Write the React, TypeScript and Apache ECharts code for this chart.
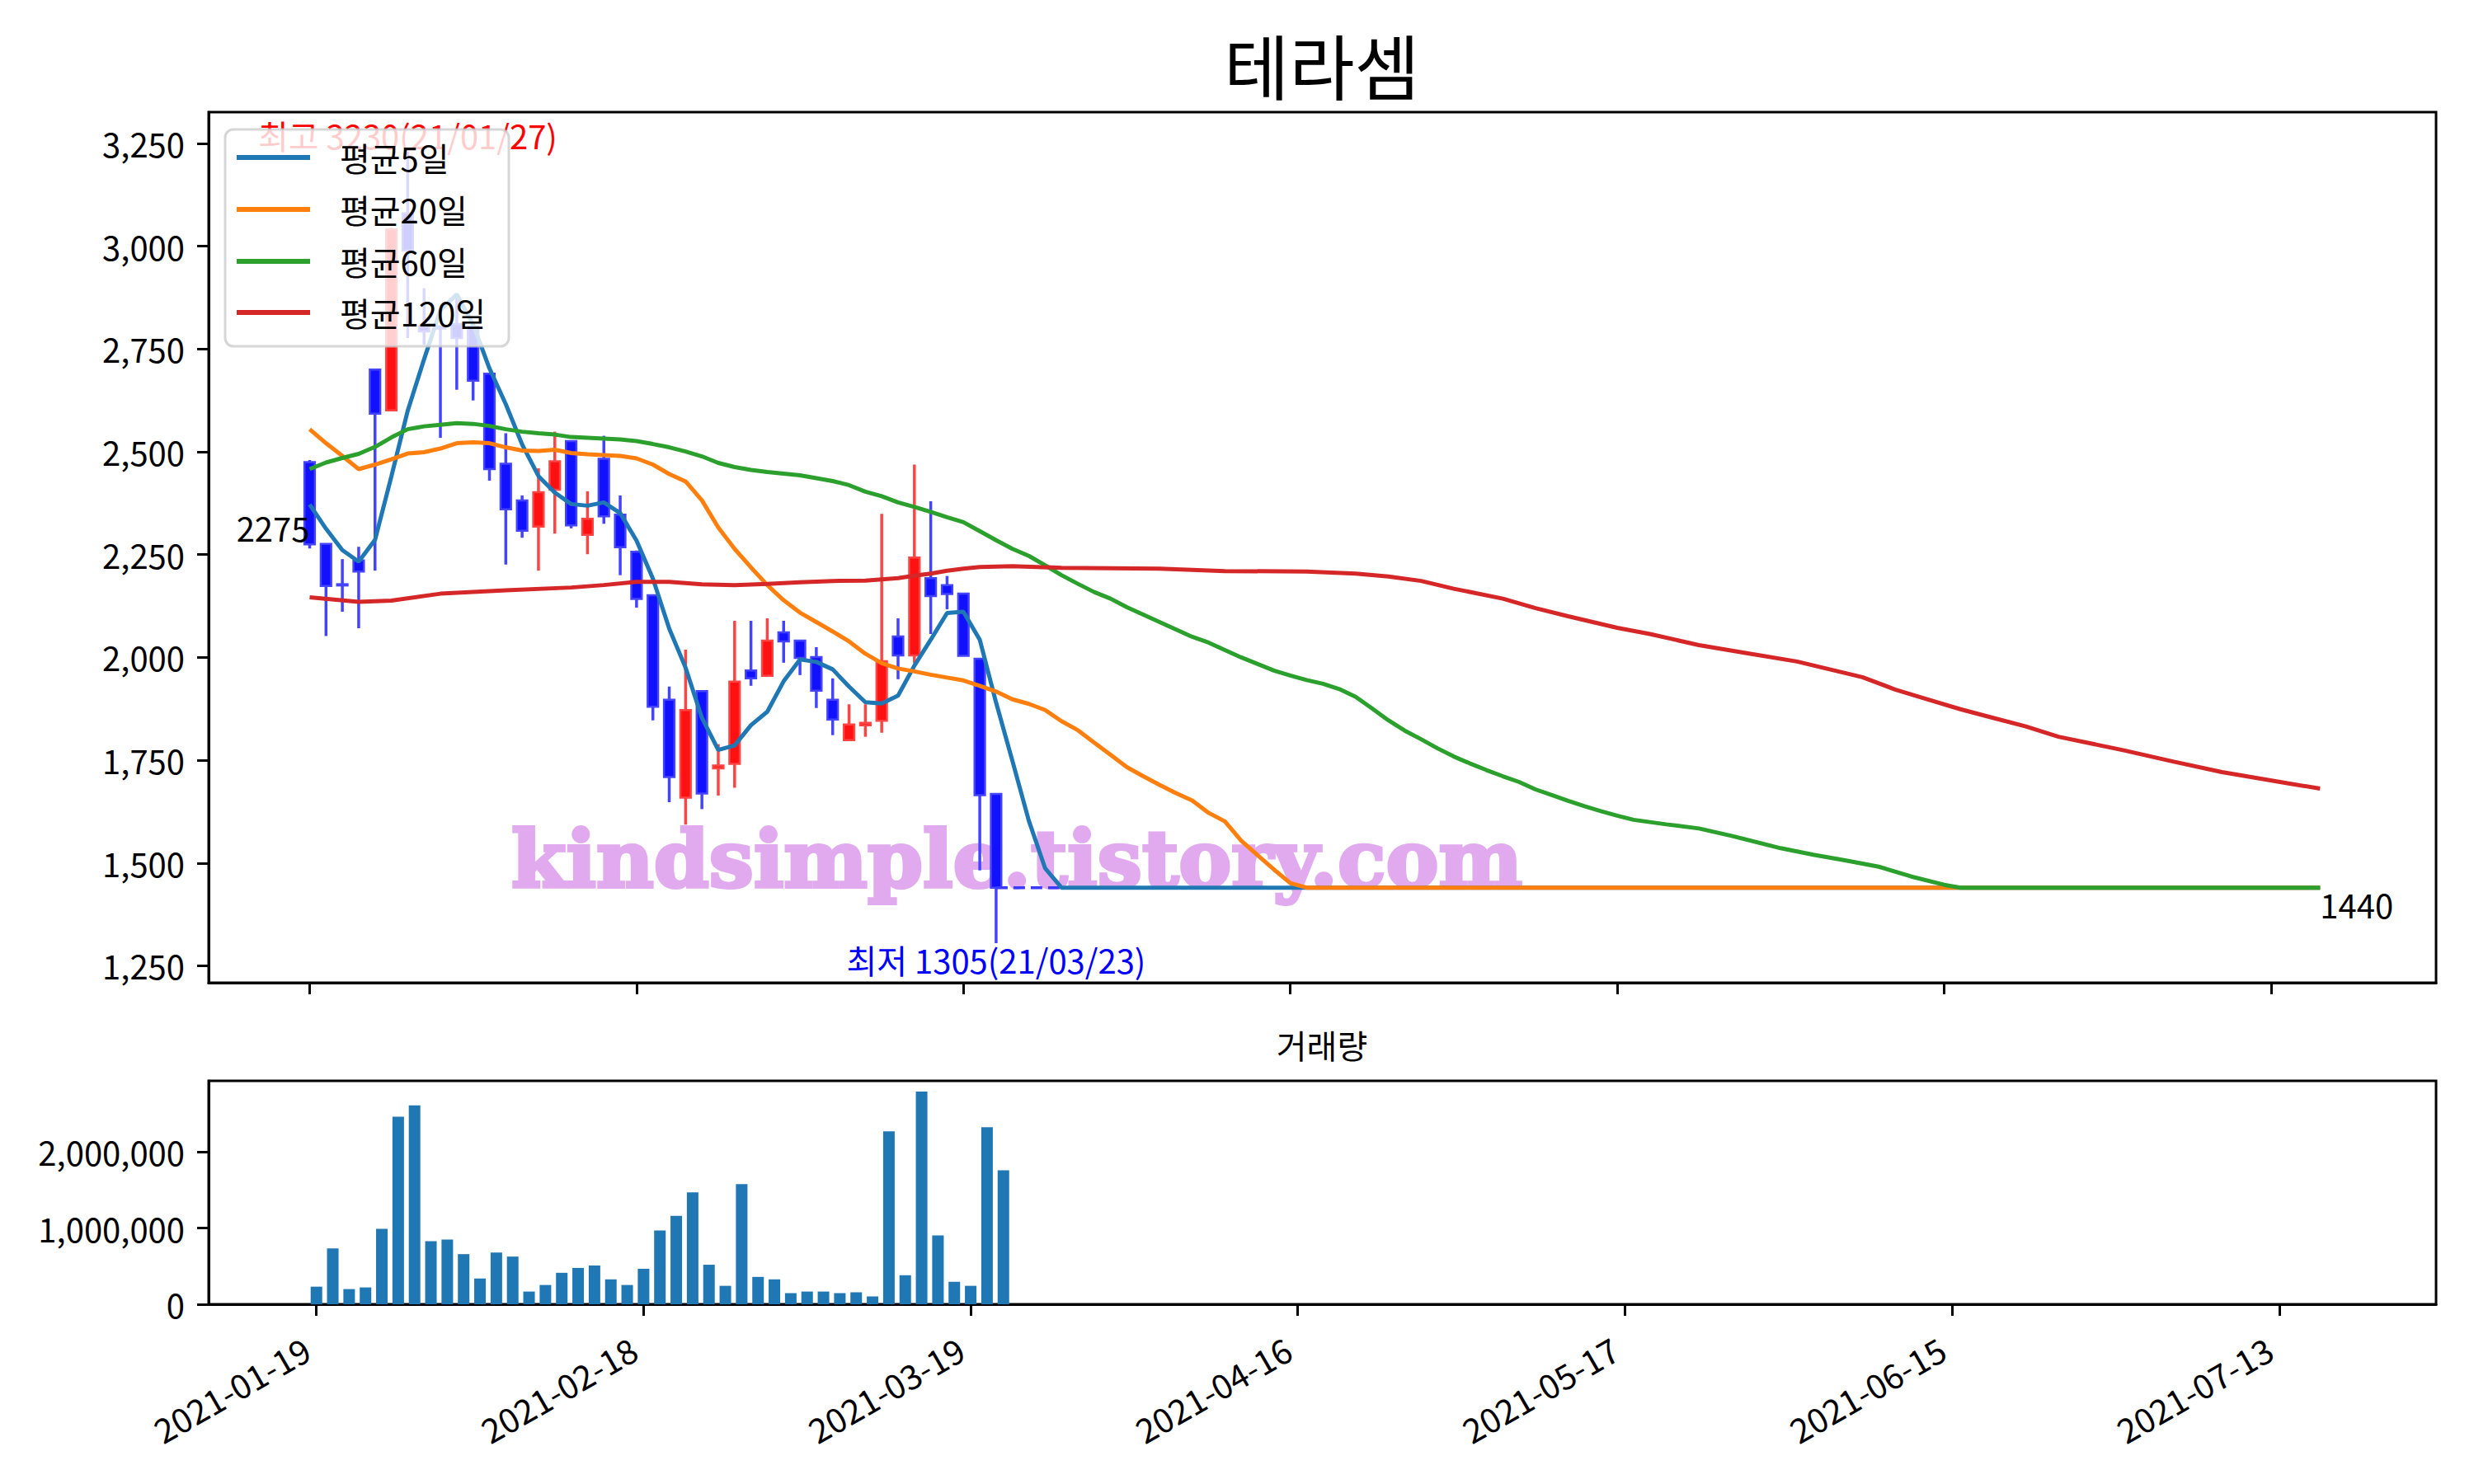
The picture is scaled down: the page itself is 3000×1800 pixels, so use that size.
import React, { useEffect, useRef } from 'react';
import * as echarts from 'echarts';

const TITLE = '테라셈';
const VOLUME_TITLE = '거래량';

// trading-day index of each candle (0 = 2021-01-19)
const candleIdx = [0, 1, 2, 3, 4, 5, 6, 7, 8, 9, 10, 11, 12, 13, 14, 15, 16, 17, 18, 19, 20, 21, 22, 23, 24, 25, 26, 27, 28, 29, 30, 31, 32, 33, 34, 35, 36, 37, 38, 39, 40, 41, 42];
const opens = [2475, 2276, 2178, 2236, 2700, 2601, 3080, 2806, 2805, 2811, 2805, 2690, 2471, 2382, 2318, 2408, 2526, 2298, 2483, 2347, 2257, 2151, 1897, 1659, 1918, 1730, 1741, 1968, 1955, 2061, 2041, 2001, 1897, 1799, 1835, 1846, 2051, 2005, 2193, 2176, 2155, 1997, 1668];
const closes = [2275, 2174, 2176, 2209, 2593, 3041, 2990, 2793, 2800, 2777, 2673, 2458, 2360, 2308, 2402, 2477, 2321, 2337, 2343, 2268, 2142, 1880, 1709, 1872, 1669, 1737, 1941, 1949, 2041, 2039, 1999, 1919, 1849, 1837, 1841, 1991, 2005, 2243, 2149, 2154, 2004, 1665, 1440];
const lows = [2265, 2052, 2111, 2071, 2211, 2601, 2777, 2760, 2534, 2651, 2625, 2430, 2226, 2291, 2211, 2301, 2314, 2251, 2325, 2200, 2121, 1847, 1648, 1593, 1631, 1664, 1683, 1931, 1953, 1987, 1957, 1877, 1811, 1799, 1807, 1817, 1947, 1986, 2057, 2117, 2003, 1482, 1305];
const highs = [2480, 2276, 2239, 2269, 2700, 3045, 3230, 2898, 2806, 2885, 2810, 2690, 2545, 2394, 2460, 2549, 2526, 2404, 2539, 2394, 2260, 2151, 1929, 2019, 1918, 1789, 2089, 2089, 2095, 2089, 2041, 2025, 1949, 1886, 1886, 2349, 2095, 2469, 2380, 2198, 2155, 1997, 1668];
const volumes = [231000, 733000, 199000, 221000, 989000, 2461000, 2611000, 829000, 850000, 658000, 338000, 679000, 626000, 167000, 253000, 413000, 477000, 509000, 327000, 253000, 466000, 967000, 1160000, 1469000, 519000, 242000, 1576000, 359000, 327000, 146000, 167000, 167000, 146000, 157000, 103000, 2269000, 381000, 2792000, 903000, 295000, 242000, 2323000, 1757000];

// moving averages: [trading-day index, value]
const ma5 = [[0, 2372], [1, 2313], [2, 2261], [3, 2233], [4, 2286], [5, 2440], [6, 2600], [7, 2725], [8, 2845], [9, 2883], [10, 2810], [11, 2703], [12, 2616], [13, 2518], [14, 2441], [15, 2401], [16, 2373], [17, 2369], [18, 2377], [19, 2351], [20, 2284], [21, 2192], [22, 2070], [23, 1975], [24, 1853], [25, 1775], [26, 1786], [27, 1835], [28, 1868], [29, 1942], [30, 1995], [31, 1989], [32, 1971], [33, 1929], [34, 1891], [35, 1888], [36, 1907], [37, 1980], [38, 2043], [39, 2108], [40, 2111], [41, 2043], [42, 1890], [43, 1748], [44, 1603], [45, 1487], [46, 1440], [123, 1440]];
const ma20 = [[0, 2555], [1, 2521], [2, 2490], [3, 2458], [4, 2469], [5, 2482], [6, 2496], [7, 2499], [8, 2508], [9, 2521], [10, 2523], [11, 2521], [12, 2511], [13, 2503], [14, 2502], [15, 2505], [16, 2497], [17, 2494], [18, 2492], [19, 2490], [20, 2484], [21, 2469], [22, 2446], [23, 2428], [24, 2382], [25, 2316], [26, 2264], [27, 2219], [28, 2176], [29, 2139], [30, 2109], [31, 2086], [32, 2063], [33, 2039], [34, 2009], [35, 1986], [36, 1973], [37, 1966], [38, 1958], [39, 1951], [40, 1944], [41, 1931], [42, 1917], [43, 1898], [44, 1887], [45, 1872], [46, 1845], [47, 1823], [48, 1793], [49, 1763], [50, 1733], [51, 1711], [52, 1690], [53, 1670], [54, 1652], [55, 1622], [56, 1601], [57, 1554], [58, 1519], [59, 1484], [60, 1451], [61, 1440], [123, 1440]];
const ma60 = [[0, 2458], [1, 2474], [2, 2485], [3, 2495], [4, 2512], [5, 2535], [6, 2555], [7, 2562], [8, 2566], [9, 2570], [10, 2568], [11, 2563], [12, 2555], [13, 2549], [14, 2545], [15, 2542], [16, 2536], [17, 2534], [18, 2532], [19, 2530], [20, 2526], [21, 2519], [22, 2511], [23, 2501], [24, 2489], [25, 2473], [26, 2463], [27, 2456], [28, 2451], [29, 2447], [30, 2443], [31, 2436], [32, 2429], [33, 2419], [34, 2403], [35, 2392], [36, 2377], [37, 2366], [38, 2354], [39, 2341], [40, 2329], [41, 2307], [42, 2285], [43, 2264], [44, 2247], [45, 2224], [46, 2200], [47, 2179], [48, 2159], [49, 2143], [50, 2122], [51, 2104], [52, 2086], [53, 2068], [54, 2050], [55, 2036], [56, 2018], [57, 2000], [58, 1984], [59, 1968], [60, 1956], [61, 1945], [62, 1936], [63, 1923], [64, 1904], [65, 1876], [66, 1847], [67, 1822], [68, 1801], [69, 1779], [70, 1759], [71, 1742], [72, 1726], [73, 1711], [74, 1697], [75, 1679], [76, 1665], [77, 1651], [78, 1638], [79, 1626], [80, 1615], [81, 1605], [83, 1594], [85, 1584], [87, 1566], [90, 1536], [92, 1520], [94, 1506], [96, 1491], [98, 1467], [100, 1447], [101, 1440], [123, 1440]];
const ma120 = [[0, 2146], [3, 2135], [5, 2138], [8, 2155], [12, 2163], [16, 2170], [18, 2176], [20, 2184], [22, 2184], [24, 2178], [26, 2176], [28, 2179], [30, 2183], [32, 2186], [34, 2187], [36, 2193], [37, 2199], [38, 2204], [39, 2211], [40, 2216], [41, 2220], [43, 2222], [46, 2218], [52, 2216], [56, 2210], [61, 2209], [64, 2204], [66, 2197], [68, 2186], [70, 2167], [73, 2143], [75, 2120], [77, 2100], [80, 2072], [82, 2057], [85, 2030], [88, 2010], [91, 1990], [93, 1971], [95, 1952], [97, 1922], [99, 1898], [101, 1874], [103, 1853], [105, 1832], [107, 1807], [111, 1774], [114, 1747], [117, 1721], [121, 1694], [123, 1681]];
const lastPriceLine = [[42, 1440], [123, 1440]];

const maNames = ['평균5일', '평균20일', '평균60일', '평균120일'];

// annotations: anchor index, anchor value, text
const annX = [6, 42, 0, 123];
const annY = [3230, 1305, 2275, 1440];
const annTexts = ['최고 3230(21/01/27)', '최저 1305(21/03/23)', '2275', '1440'];

// axes ticks
const priceTicks = [1250, 1500, 1750, 2000, 2250, 2500, 2750, 3000, 3250];
const volumeTicks = [0, 1000000, 2000000];
const dateTickIdx = [0, 20, 40, 60, 80, 100, 120];
const dateTickLabels = ['2021-01-19', '2021-02-18', '2021-03-19', '2021-04-16', '2021-05-17', '2021-06-15', '2021-07-13'];

const WATERMARK = 'kindsimple.tistory.com';

// ---- styles ----
const FONT = '"Noto Sans CJK KR", "Noto Sans", sans-serif';
const FS = 40;
const maColors = ['#1f77b4', '#ff7f0e', '#2ca02c', '#d62728'];
const annColors = ['#ff0000', '#0000ff', '#000000', '#000000'];
const annAlign = ['center', 'center', 'right', 'left'];
const annVAlign = ['bottom', 'top', 'bottom', 'top'];

const fmtComma = (v: number) => Math.round(v).toLocaleString('en-US');

export default function App() {
  const ref = useRef<HTMLDivElement>(null);

  useEffect(() => {
    if (!ref.current) return;
    const chart = echarts.init(ref.current, null, { renderer: 'svg' });

    const candleData = candleIdx.map((x, i) => [x, opens[i], closes[i], lows[i], highs[i]]);
    const volumeData = candleIdx.map((x, i) => [x, volumes[i]]);
    const annData = annX.map((x, i) => [x, annY[i]]);

    const axisLineStyle = { color: '#000', width: 3 };
    const labelStyle = { color: '#000', fontSize: FS, fontFamily: FONT };

    const legendRows = [191, 254, 317, 379];
    const legendChildren: any[] = [
      {
        type: 'rect',
        shape: { x: 273, y: 157, width: 344, height: 263, r: 10 },
        style: { fill: 'rgba(255,255,255,0.8)', stroke: 'rgba(204,204,204,0.8)', lineWidth: 3 },
        z: 20,
      },
    ];
    maNames.forEach((name, i) => {
      legendChildren.push({
        type: 'line',
        shape: { x1: 287, y1: legendRows[i], x2: 376, y2: legendRows[i] },
        style: { stroke: maColors[i], lineWidth: 6 },
        z: 21,
      });
      legendChildren.push({
        type: 'text',
        x: 412,
        y: legendRows[i],
        style: { text: name, fill: '#000', fontSize: FS, fontFamily: FONT, verticalAlign: 'middle', align: 'left' },
        z: 21,
      });
    });

    const option: any = {
      animation: false,
      backgroundColor: '#ffffff',
      title: [
        {
          text: TITLE, left: 1603, top: 34, textAlign: 'center', padding: 0,
          textStyle: { fontSize: 86, fontWeight: 'normal', color: '#000', fontFamily: FONT },
        },
        {
          text: VOLUME_TITLE, left: 1603, top: 1247, textAlign: 'center', padding: 0,
          textStyle: { fontSize: FS, fontWeight: 'normal', color: '#000', fontFamily: FONT },
        },
      ],
      grid: [
        { left: 253, right: 46, top: 136, bottom: 608, show: true, borderColor: '#000', borderWidth: 3, backgroundColor: 'transparent' },
        { left: 253, right: 46, top: 1311, bottom: 218, show: true, borderColor: '#000', borderWidth: 3, backgroundColor: 'transparent' },
      ],
      xAxis: [
        {
          type: 'value', gridIndex: 0, min: -6.18, max: 130.1,
          axisLine: { show: true, onZero: false, lineStyle: axisLineStyle },
          axisTick: { show: true, customValues: dateTickIdx, length: 14, lineStyle: axisLineStyle },
          axisLabel: { show: false },
          splitLine: { show: false },
        },
        {
          type: 'value', gridIndex: 1, min: -6.59, max: 129.59,
          axisLine: { show: true, onZero: false, lineStyle: axisLineStyle },
          axisTick: { show: true, customValues: dateTickIdx, length: 14, lineStyle: axisLineStyle },
          axisLabel: {
            show: true, customValues: dateTickIdx, rotate: 30, margin: 43, padding: [0, 14, 0, 0],
            formatter: (v: number) => {
              const k = dateTickIdx.indexOf(Math.round(v));
              return k >= 0 ? dateTickLabels[k] : '';
            },
            ...labelStyle,
            fontSize: 41,
          },
          splitLine: { show: false },
        },
      ],
      yAxis: [
        {
          type: 'value', gridIndex: 0, min: 1208.75, max: 3326.25,
          axisLine: { show: true, onZero: false, lineStyle: axisLineStyle },
          axisTick: { show: true, customValues: priceTicks, length: 14, lineStyle: axisLineStyle },
          axisLabel: { show: true, customValues: priceTicks, margin: 29, formatter: fmtComma, ...labelStyle },
          splitLine: { show: false },
        },
        {
          type: 'value', gridIndex: 1, min: 0, max: 2932000,
          axisLine: { show: true, onZero: false, lineStyle: axisLineStyle },
          axisTick: { show: true, customValues: volumeTicks, length: 14, lineStyle: axisLineStyle },
          axisLabel: { show: true, customValues: volumeTicks, margin: 29, formatter: fmtComma, ...labelStyle },
          splitLine: { show: false },
        },
      ],
      series: [
        {
          type: 'custom',
          name: 'candles',
          xAxisIndex: 0, yAxisIndex: 0,
          z: 2,
          encode: { x: 0, y: [1, 2, 3, 4] },
          data: candleData,
          renderItem: (params: any, api: any) => {
            const x = api.value(0);
            const o = api.value(1);
            const c = api.value(2);
            const l = api.value(3);
            const h = api.value(4);
            const pO = api.coord([x, o]);
            const pC = api.coord([x, c]);
            const pL = api.coord([x, l]);
            const pH = api.coord([x, h]);
            const w = api.size([1, 0])[0] * 0.64;
            const up = c > o;
            const fill = up ? '#ff1111' : '#1111ff';
            const edge = up ? '#ff4444' : '#4444ff';
            const top = Math.min(pO[1], pC[1]);
            const hgt = Math.max(Math.abs(pO[1] - pC[1]), 1.5);
            return {
              type: 'group',
              children: [
                { type: 'line', shape: { x1: pH[0], y1: pH[1], x2: pL[0], y2: pL[1] }, style: { stroke: edge, lineWidth: 3.5 } },
                { type: 'rect', shape: { x: pO[0] - w / 2, y: top, width: w, height: hgt }, style: { fill, stroke: edge, lineWidth: 2.5 } },
              ],
            };
          },
        },
        {
          type: 'line', name: 'last', xAxisIndex: 0, yAxisIndex: 0, z: 3,
          data: lastPriceLine, showSymbol: false, symbol: 'none',
          lineStyle: { color: '#3b3bff', width: 3.5, type: [14, 7] },
        },
        ...[ma5, ma20, ma60, ma120].map((d, i) => ({
          type: 'line', name: maNames[i], xAxisIndex: 0, yAxisIndex: 0, z: 4,
          data: d, showSymbol: false, symbol: 'none',
          lineStyle: { color: maColors[i], width: 5 },
          itemStyle: { color: maColors[i] },
        })),
        {
          type: 'custom', name: 'annotations', xAxisIndex: 0, yAxisIndex: 0, z: 3,
          data: annData,
          encode: { x: 0, y: 1 },
          renderItem: (params: any, api: any) => {
            const i = params.dataIndex;
            const p = api.coord([api.value(0), api.value(1)]);
            return {
              type: 'text', x: p[0], y: p[1],
              style: {
                text: annTexts[i], fill: annColors[i], fontSize: FS, fontFamily: FONT,
                align: annAlign[i], verticalAlign: annVAlign[i],
              },
            };
          },
        },
        {
          type: 'bar', name: VOLUME_TITLE, xAxisIndex: 1, yAxisIndex: 1,
          data: volumeData, barWidth: 14,
          itemStyle: { color: '#1f77b4' },
        },
      ],
      graphic: [
        {
          type: 'text', x: 1233, y: 1042, z: 1,
          style: {
            text: WATERMARK, fill: '#e2aaee', stroke: '#e2aaee', lineWidth: 4,
            fontSize: 96, fontWeight: 'bold',
            fontFamily: '"DejaVu Serif", serif', align: 'center', verticalAlign: 'middle',
          },
        },
        { type: 'group', z: 20, children: legendChildren },
      ],
    };

    chart.setOption(option);
    return () => chart.dispose();
  }, []);

  return <div ref={ref} style={{ position: 'fixed', left: 0, top: 0, width: 3000, height: 1800, background: '#fff' }} />;
}
